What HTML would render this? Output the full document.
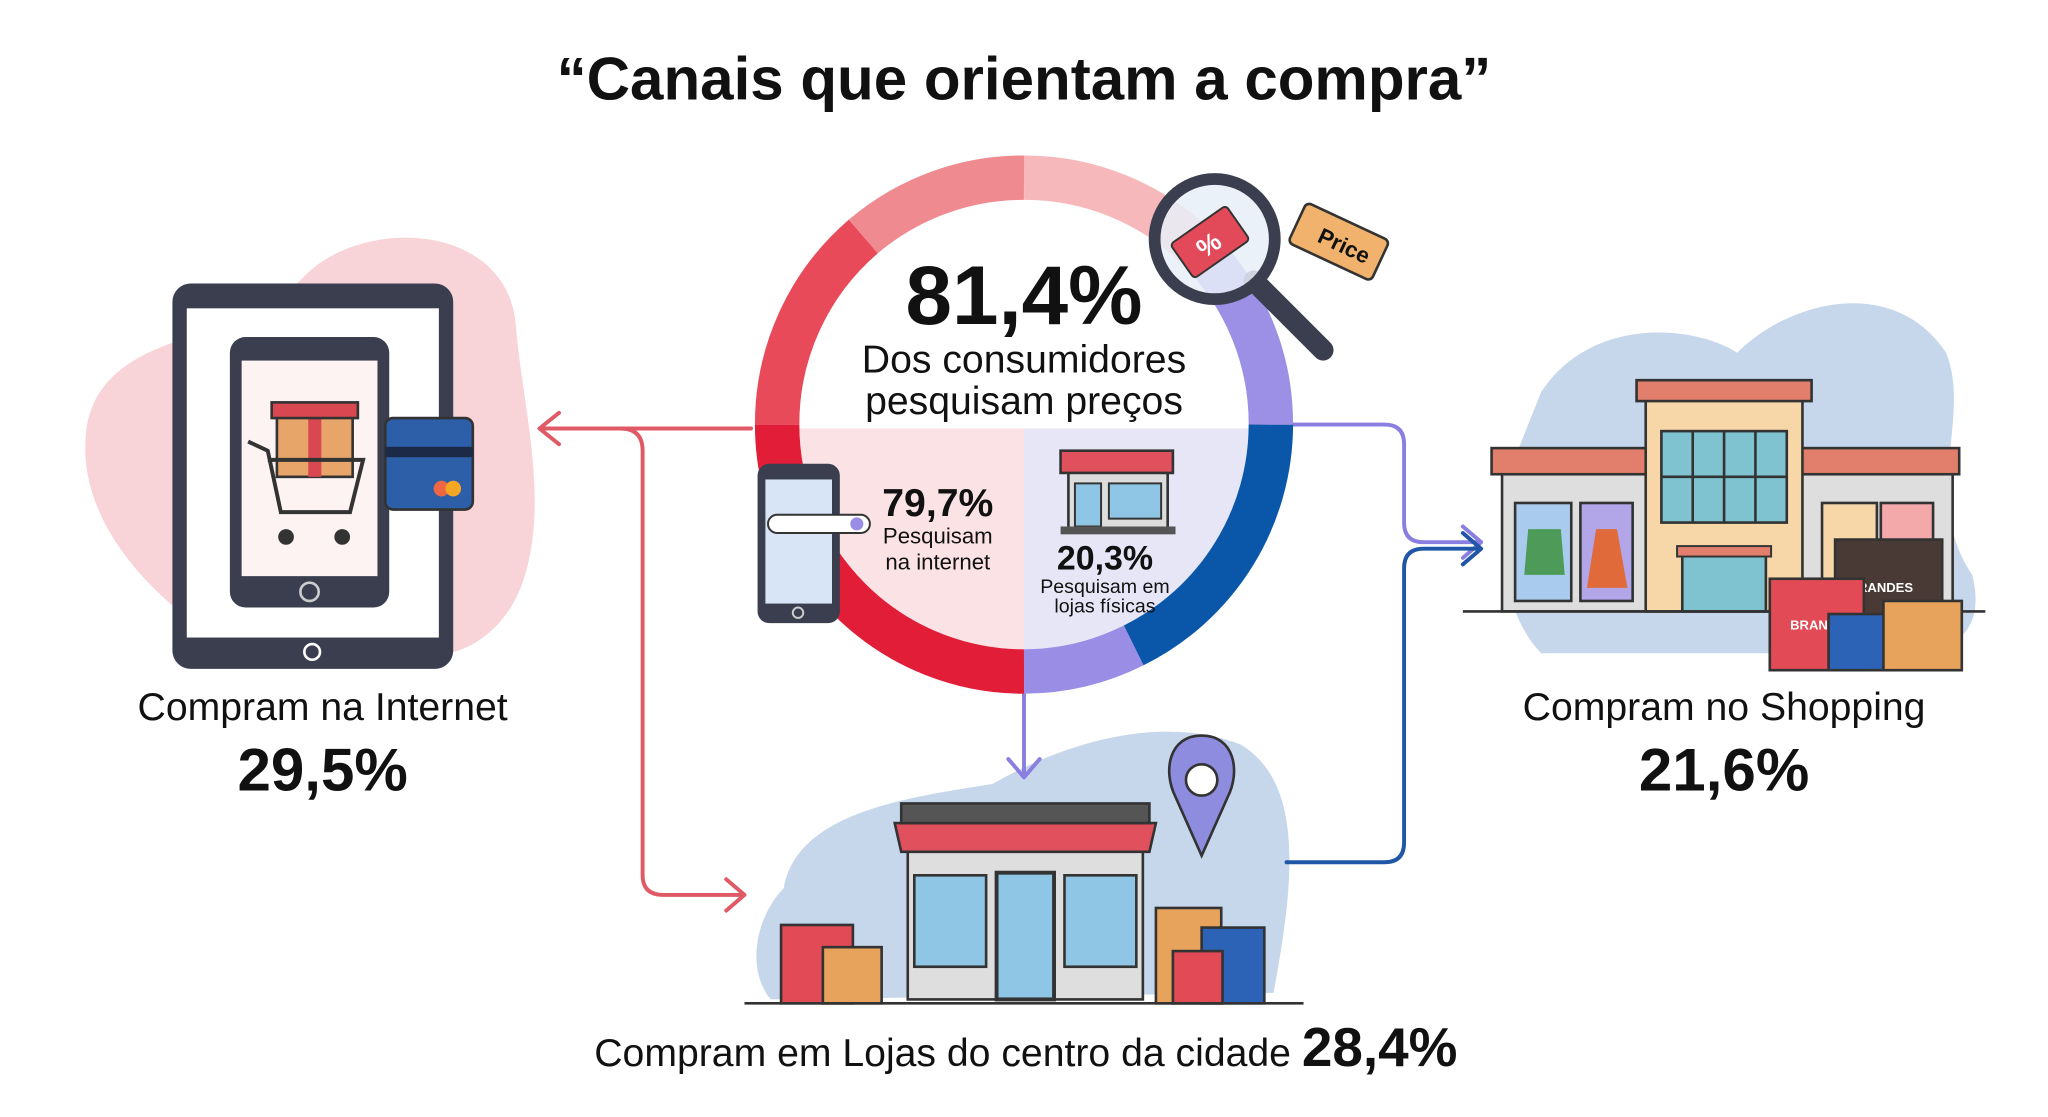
<!DOCTYPE html>
<html><head><meta charset="utf-8"><style>
html,body{margin:0;padding:0;background:#fff}
svg{display:block}
text{font-family:"Liberation Sans",sans-serif;fill:#111}
</style></head><body>
<svg width="2048" height="1117" viewBox="0 0 1568 855" preserveAspectRatio="none" xmlns="http://www.w3.org/2000/svg">
<rect width="1568" height="855" fill="#fff"/>
<text x="784" y="76" text-anchor="middle" font-size="46" font-weight="bold">“Canais que orientam a compra”</text>

<!-- left blob + tablet -->
<path d="M240 205 C290 165 390 175 395 250 C400 310 420 380 402 440 C385 500 320 520 300 480 L140 470 C90 430 60 380 66 330 C72 280 120 262 180 250 C205 245 220 222 240 205 Z" fill="#f8d3d8"/>
<rect x="132" y="217" width="215" height="295" rx="14" fill="#3b3e4f"/>
<rect x="143" y="236" width="193" height="252" fill="#fff"/>
<circle cx="239" cy="499" r="6" fill="none" stroke="#fff" stroke-width="2"/>
<rect x="176" y="258" width="122" height="207" rx="12" fill="#3b3e4f"/>
<rect x="185" y="276" width="104" height="165" fill="#fdf3f3"/>
<circle cx="237" cy="453" r="7" fill="none" stroke="#ccc" stroke-width="2"/>
<rect x="212" y="315" width="58" height="50" fill="#e8a56a" stroke="#333" stroke-width="2"/>
<rect x="236" y="315" width="10" height="50" fill="#d94750"/>
<rect x="208" y="308" width="66" height="12" fill="#d94750" stroke="#333" stroke-width="2"/>
<path d="M190 338 L205 345 L215 392 L268 392 L278 352 L205 352" fill="none" stroke="#333" stroke-width="3"/>
<circle cx="219" cy="411" r="6" fill="#333"/><circle cx="262" cy="411" r="6" fill="#333"/>
<rect x="295" y="320" width="67" height="70" rx="6" fill="#2d5fa8" stroke="#333" stroke-width="2"/>
<rect x="295" y="342" width="67" height="8" fill="#1c2a48"/>
<circle cx="338" cy="374" r="6" fill="#e64"/><circle cx="347" cy="374" r="6" fill="#f5a623"/>
<text x="247" y="551" text-anchor="middle" font-size="30">Compram na Internet</text>
<text x="247" y="605" text-anchor="middle" font-size="46" font-weight="bold">29,5%</text>

<!-- right blob + shopping -->
<path d="M1180 300 C1220 240 1300 250 1330 270 C1370 230 1450 210 1490 270 C1510 320 1470 380 1510 440 C1520 480 1500 500 1460 500 L1180 500 C1150 470 1140 400 1160 350 Z" fill="#c6d7ec"/>
<rect x="1150" y="360" width="345" height="108" fill="#dedede" stroke="#333" stroke-width="2"/>
<rect x="1142" y="343" width="358" height="20" fill="#e27f6c" stroke="#333" stroke-width="2"/>
<rect x="1260" y="303" width="120" height="165" fill="#f7d7a8" stroke="#333" stroke-width="2"/>
<rect x="1253" y="291" width="134" height="16" fill="#e27f6c" stroke="#333" stroke-width="2"/>
<rect x="1272" y="330" width="96" height="70" fill="#7ec3cf" stroke="#333" stroke-width="2"/>
<path d="M1296 330V400M1320 330V400M1344 330V400M1272 365H1368" stroke="#333" stroke-width="2"/>
<rect x="1288" y="423" width="64" height="45" fill="#7ec3cf" stroke="#333" stroke-width="2"/>
<rect x="1284" y="418" width="72" height="8" fill="#e27f6c" stroke="#333" stroke-width="1.5"/>
<rect x="1160" y="385" width="43" height="75" fill="#a9cbee" stroke="#333" stroke-width="2"/>
<rect x="1210" y="385" width="40" height="75" fill="#b2a6e8" stroke="#333" stroke-width="2"/>
<path d="M1170 405 L1195 405 L1198 440 L1167 440 Z" fill="#4e9a58"/>
<path d="M1222 405 L1238 405 L1246 450 L1215 450 Z" fill="#e06a3a"/>
<rect x="1395" y="385" width="42" height="75" fill="#f7d7a8" stroke="#333" stroke-width="2"/>
<rect x="1440" y="385" width="40" height="75" fill="#f3a8aa" stroke="#333" stroke-width="2"/>
<line x1="1120" y1="468" x2="1520" y2="468" stroke="#333" stroke-width="2"/>
<rect x="1405" y="413" width="82" height="100" fill="#4a3a35" stroke="#333" stroke-width="2"/>
<text x="1440" y="453" text-anchor="middle" font-size="10" font-weight="bold" style="fill:#fff">BRANDES</text>
<rect x="1355" y="443" width="72" height="70" fill="#e24a55" stroke="#333" stroke-width="2"/>
<text x="1385" y="482" text-anchor="middle" font-size="10" font-weight="bold" style="fill:#fff">BRAN</text>
<rect x="1400" y="470" width="50" height="43" fill="#2d63b6" stroke="#333" stroke-width="2"/>
<rect x="1442" y="460" width="60" height="53" fill="#e7a35c" stroke="#333" stroke-width="2"/>
<text x="1320" y="551" text-anchor="middle" font-size="30">Compram no Shopping</text>
<text x="1320" y="605" text-anchor="middle" font-size="46" font-weight="bold">21,6%</text>

<!-- bottom store -->
<path d="M600 680 C610 620 700 610 760 600 C830 560 900 550 950 570 C1000 600 990 680 975 760 L590 765 C570 740 580 700 600 680 Z" fill="#c6d7ec"/>
<rect x="695" y="640" width="180" height="125" fill="#dedede" stroke="#333" stroke-width="2"/>
<path d="M685 630 L885 630 L880 652 L690 652 Z" fill="#e0505d" stroke="#333" stroke-width="2"/>
<rect x="690" y="615" width="190" height="15" fill="#555" stroke="#333" stroke-width="2"/>
<rect x="700" y="670" width="55" height="70" fill="#8fc6e6" stroke="#333" stroke-width="2"/>
<rect x="815" y="670" width="55" height="70" fill="#8fc6e6" stroke="#333" stroke-width="2"/>
<rect x="763" y="668" width="44" height="97" fill="#8fc6e6" stroke="#333" stroke-width="3"/>
<path d="M920 563 C895 563 890 590 900 610 L920 655 L940 610 C950 590 945 563 920 563 Z" fill="#8e8cdf" stroke="#333" stroke-width="2"/>
<circle cx="920" cy="597" r="12" fill="#fff" stroke="#333" stroke-width="2"/>
<rect x="598" y="708" width="55" height="60" fill="#e24a55" stroke="#333" stroke-width="2"/>
<rect x="630" y="725" width="45" height="43" fill="#e7a35c" stroke="#333" stroke-width="2"/>
<rect x="885" y="695" width="50" height="73" fill="#e7a35c" stroke="#333" stroke-width="2"/>
<rect x="920" y="710" width="48" height="58" fill="#2d63b6" stroke="#333" stroke-width="2"/>
<rect x="898" y="728" width="38" height="40" fill="#e24a55" stroke="#333" stroke-width="2"/>
<line x1="570" y1="768" x2="998" y2="768" stroke="#333" stroke-width="2"/>
<text x="455" y="816" font-size="30">Compram em Lojas do centro da cidade <tspan font-size="42" font-weight="bold">28,4%</tspan></text>

<!-- arrows -->
<g fill="none" stroke-width="3" stroke-linecap="round" stroke-linejoin="round">
<path d="M575 328 H415 M428 316 L413 328 L428 340" stroke="#e05a66"/>
<path d="M475 328 Q492 328 492 345 V670 Q492 685 508 685 H568 M556 673 L570 685 L556 697" stroke="#e05a66"/>
<path d="M990 325 H1060 Q1075 325 1075 340 V400 Q1075 415 1090 415 H1132 M1120 403 L1134 415 L1120 427" stroke="#8a7fe0"/>
<path d="M985 660 H1060 Q1075 660 1075 645 V435 Q1075 420 1090 420 H1132" stroke="#1f56a6"/>
<path d="M1120 408 L1134 420 L1120 432" stroke="#1f56a6"/>
<path d="M784 530 V593 M772 581 L784 595 L796 581" stroke="#8a7fe0"/>
</g>

<!-- ring -->
<circle cx="784" cy="325" r="172" fill="#fff"/>
<path d="M612 328 A172 172 0 0 0 784 497 V328 Z" fill="#fbe2e5"/>
<path d="M956 328 A172 172 0 0 1 784 497 V328 Z" fill="#e7e6f7"/>
<g fill="none" stroke-width="34">
<path d="M784 136 A189 189 0 0 1 918 191" stroke="#f7b8bb"/>
<path d="M784 136 A189 189 0 0 0 661 181" stroke="#f08a91"/>
<path d="M661 181 A189 189 0 0 0 595 325" stroke="#e84a5a"/>
<path d="M595 325 A189 189 0 0 0 784 514" stroke="#e21d38"/>
<path d="M784 514 A189 189 0 0 0 868 494" stroke="#9a8de6"/>
<path d="M868 494 A189 189 0 0 0 973 325" stroke="#0a57aa"/>
<path d="M973 325 A189 189 0 0 0 918 191" stroke="#9c90e6"/>
</g>
<text x="784" y="248" text-anchor="middle" font-size="64" font-weight="bold">81,4%</text>
<text x="784" y="285" text-anchor="middle" font-size="30">Dos consumidores</text>
<text x="784" y="317" text-anchor="middle" font-size="30">pesquisam preços</text>

<rect x="580" y="355" width="63" height="122" rx="9" fill="#3b3e4f"/>
<rect x="586" y="367" width="51" height="95" fill="#d7e5f6"/>
<circle cx="611" cy="469" r="4" fill="none" stroke="#ccc" stroke-width="1.5"/>
<rect x="588" y="394" width="78" height="14" rx="7" fill="#fff" stroke="#333" stroke-width="1.5"/>
<circle cx="656" cy="401" r="5" fill="#9a8de6"/>
<text x="718" y="395" text-anchor="middle" font-size="30" font-weight="bold">79,7%</text>
<text x="718" y="416" text-anchor="middle" font-size="17">Pesquisam</text>
<text x="718" y="436" text-anchor="middle" font-size="17">na internet</text>

<rect x="818" y="360" width="76" height="46" fill="#ddd" stroke="#333" stroke-width="2"/>
<path d="M812 345 H898 V362 H812 Z" fill="#e0505d" stroke="#333" stroke-width="2"/>
<rect x="823" y="370" width="20" height="33" fill="#8fc6e6" stroke="#333" stroke-width="1.5"/>
<rect x="849" y="370" width="40" height="27" fill="#8fc6e6" stroke="#333" stroke-width="1.5"/>
<rect x="812" y="403" width="88" height="6" fill="#555"/>
<text x="846" y="436" text-anchor="middle" font-size="26" font-weight="bold">20,3%</text>
<text x="846" y="454" text-anchor="middle" font-size="15">Pesquisam em</text>
<text x="846" y="469" text-anchor="middle" font-size="15">lojas físicas</text>

<!-- magnifier -->
<line x1="960" y1="215" x2="1013" y2="268" stroke="#3b3e4f" stroke-width="16" stroke-linecap="round"/>
<circle cx="930" cy="183" r="46" fill="#e8eef8" fill-opacity="0.85" stroke="#3b3e4f" stroke-width="9"/>
<g transform="rotate(-35 925 185)"><rect x="900" y="170" width="52" height="32" rx="3" fill="#e24a5a" stroke="#333" stroke-width="1.5"/><text x="924" y="194" text-anchor="middle" font-size="20" font-weight="bold" style="fill:#fff">%</text></g>
<g transform="rotate(25 1025 185)"><rect x="990" y="168" width="70" height="34" rx="4" fill="#f0b26c" stroke="#333" stroke-width="2"/><text x="1030" y="192" text-anchor="middle" font-size="17" font-weight="bold">Price</text></g>
</svg>
</body></html>
